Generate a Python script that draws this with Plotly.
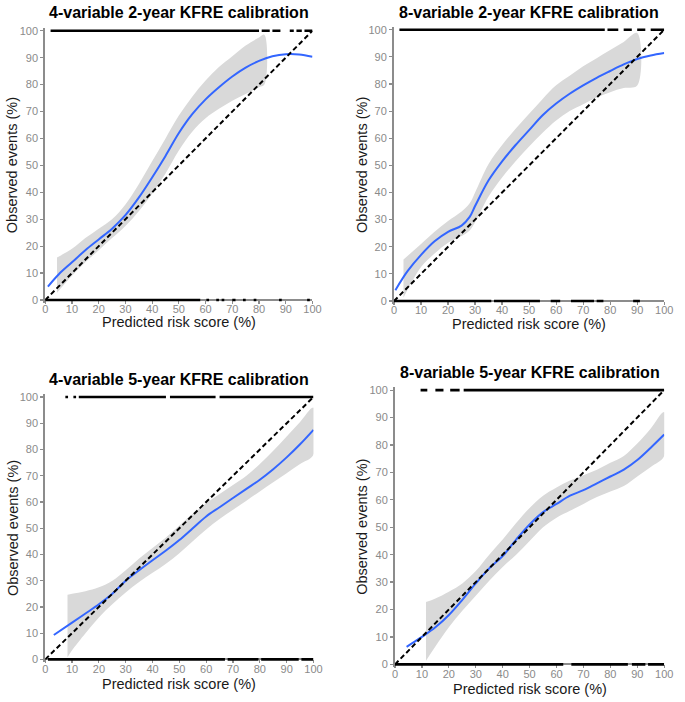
import plotly.graph_objects as go

W, H = 685, 702

TITLES = ["4-variable 2-year KFRE calibration", "8-variable 2-year KFRE calibration",
          "4-variable 5-year KFRE calibration", "8-variable 5-year KFRE calibration"]
X_LABEL = "Predicted risk score (%)"
Y_LABEL = "Observed events (%)"
TICKS = [0, 10, 20, 30, 40, 50, 60, 70, 80, 90, 100]

# ---- Panel 1: 4-variable 2-year ----
p1_curve_x = [1, 5, 10, 15, 20, 25, 30, 35, 40, 45, 50, 55, 60, 65, 70, 75, 80, 85, 90, 95, 100]
p1_curve_y = [5, 9.5, 14, 18.5, 22.5, 26.5, 31.5, 38, 45.5, 53.5, 62, 69, 74.5, 79, 83, 86.3, 88.8, 90.5, 91.3, 91.2, 90.3]
p1_band_x = [4.4, 10, 15, 20, 25, 30, 35, 40, 45, 50, 55, 60, 65, 70, 75, 80, 82]
p1_band_lo = [2.7, 9, 14, 18.5, 23, 27.5, 33, 39.5, 47, 55.5, 62.5, 67.5, 71, 74, 76.5, 79, 80]
p1_band_hi = [15.8, 19, 23, 26.5, 30, 35.5, 43, 51.5, 60, 68.5, 75.5, 81.5, 86.5, 90.5, 94.5, 97.5, 98.5]
p1_rug_top = [[2, 80], [81, 84], [85, 88], [91.5, 93], [94, 96], [97, 100]]
p1_rug_bottom = [[0, 58], [60.3, 61.3], [64, 65], [66, 67], [70, 71.2], [74, 75], [78, 79], [87.5, 88.5], [98, 99]]

# ---- Panel 2: 8-variable 2-year ----
p2_curve_x = [0.5, 5, 10, 15, 20, 25, 28, 30, 35, 40, 45, 50, 55, 60, 65, 70, 75, 80, 85, 90, 95, 100]
p2_curve_y = [4, 11, 17, 22, 25.5, 27.8, 31, 35, 44.5, 51.5, 57.5, 63, 68.5, 72.8, 76.4, 79.5, 82.3, 84.8, 87.2, 89.2, 90.5, 91.4]
p2_band_x = [3.5, 10, 15, 20, 25, 28, 30, 35, 40, 45, 50, 55, 60, 65, 70, 75, 80, 85, 90]
p2_band_lo = [1.2, 12.5, 17.5, 21.5, 24, 26, 29, 38.5, 45.5, 51.5, 57, 62, 66.5, 70, 72.5, 75, 77, 78.5, 79.4]
p2_band_hi = [15.3, 21, 25.5, 29.5, 33, 36, 40, 50.5, 57.5, 63.5, 69, 74.5, 79.5, 83, 86.5, 89.5, 92.5, 95.5, 98.8]
p2_rug_top = [[2, 78], [79, 83], [85, 88], [90, 93], [95, 100]]
p2_rug_bottom = [[0, 36], [37, 54], [58, 61.5], [65.5, 74], [75, 77.5], [88.5, 91]]

# ---- Panel 3: 4-variable 5-year ----
p3_curve_x = [3.2, 10, 15, 20, 25, 30, 35, 40, 45, 50, 55, 60, 65, 70, 75, 80, 85, 90, 95, 100]
p3_curve_y = [9.3, 14, 17.5, 21, 25, 30, 34, 37.8, 41.5, 45.5, 50, 54.5, 58, 61.5, 65, 68.5, 72.5, 77, 82, 87.5]
p3_band_x = [8.3, 10, 15, 20, 25, 30, 35, 40, 45, 50, 55, 60, 65, 70, 75, 80, 85, 90, 95, 100]
p3_band_lo = [0.8, 3.5, 10, 16, 21, 25.5, 29.5, 33, 36.5, 40.5, 45, 49.5, 53.5, 57, 60.5, 64, 67.5, 71, 74.5, 78]
p3_band_hi = [24.6, 25, 26, 27.5, 30, 34, 38.5, 42.5, 46.5, 51, 55.5, 59.5, 63, 66.5, 70, 74.5, 79.5, 85, 90.5, 96]
p3_rug_top = [[7.5, 8.5], [10.5, 11.5], [12.5, 45], [46.5, 63.5], [65, 100]]
p3_rug_bottom = [[1, 67], [68, 79.5], [80.5, 94.5], [95.5, 100]]

# ---- Panel 4: 8-variable 5-year ----
p4_curve_x = [4.3, 10, 15, 20, 25, 30, 35, 40, 45, 50, 55, 60, 65, 70, 75, 80, 85, 90, 95, 100]
p4_curve_y = [6.4, 10, 13.5, 18, 23.5, 29.5, 35, 39.5, 45.5, 51, 55.5, 58.5, 61.5, 63.5, 66, 68.5, 71, 74.5, 79, 83.8]
p4_band_x = [11.5, 15, 20, 25, 30, 35, 40, 45, 50, 55, 60, 65, 70, 75, 80, 85, 90, 95, 100]
p4_band_lo = [1.3, 6.5, 13.5, 19.5, 25, 30.5, 35.5, 40, 45, 50, 53.5, 56, 58.5, 61, 63, 65, 68.5, 72, 76]
p4_band_hi = [22.7, 24, 26.5, 29.5, 34, 40, 45.5, 51.5, 57, 61.5, 64.5, 67, 69, 71, 73.5, 76, 80.5, 86, 92]
p4_rug_top = [[9.5, 12], [15, 18], [20.5, 24], [25.5, 100]]
p4_rug_bottom = [[0, 62.5], [65.5, 86.5], [88, 93], [94, 100]]

ref_x = [0, 100]
ref_y = [0, 100]

panels = [
    dict(curve=(p1_curve_x, p1_curve_y), band=(p1_band_x, p1_band_lo, p1_band_hi),
         rt=p1_rug_top, rb=p1_rug_bottom, box=(43, 315, 27, 299), ttl_y=9, xt_y=321, yt_x=10),
    dict(curve=(p2_curve_x, p2_curve_y), band=(p2_band_x, p2_band_lo, p2_band_hi),
         rt=p2_rug_top, rb=p2_rug_bottom, box=(398, 673, 26, 300), ttl_y=9, xt_y=323, yt_x=366),
    dict(curve=(p3_curve_x, p3_curve_y), band=(p3_band_x, p3_band_lo, p3_band_hi),
         rt=p3_rug_top, rb=p3_rug_bottom, box=(43, 316, 397, 662), ttl_y=379, xt_y=687, yt_x=10),
    dict(curve=(p4_curve_x, p4_curve_y), band=(p4_band_x, p4_band_lo, p4_band_hi),
         rt=p4_rug_top, rb=p4_rug_bottom, box=(399, 673, 390, 667), ttl_y=372, xt_y=692, yt_x=366),
]

FONT = "Liberation Sans, Arial, sans-serif"
GRAY = "#8a8a8a"
LINEGRAY = "#8c8c8c"

fig = go.Figure()
annotations = []
layout_axes = {}


def segs_to_xy(segs, yval):
    xs, ys = [], []
    for a, b in segs:
        xs += [a, b, None]
        ys += [yval, yval, None]
    return xs, ys


for i, p in enumerate(panels):
    n = i + 1
    xa = "x" if n == 1 else f"x{n}"
    ya = "y" if n == 1 else f"y{n}"
    x0, x1, top, bot = p["box"]
    unit = (bot - top) / 100.0
    pad = unit * 1.0
    xdom = [x0 / W, x1 / W]
    ydom = [1 - (bot + pad) / H, 1 - (top - pad) / H]

    bx, blo, bhi = p["band"]
    fig.add_trace(go.Scatter(x=list(bx) + list(bx)[::-1], y=list(bhi) + list(blo)[::-1],
                             fill="toself", fillcolor="#d9d9d9", line=dict(width=0, shape="spline"),
                             mode="lines", hoverinfo="skip", showlegend=False, xaxis=xa, yaxis=ya))
    cx, cy = p["curve"]
    fig.add_trace(go.Scatter(x=cx, y=cy, mode="lines", line=dict(color="#3366FF", width=2, shape="spline"),
                             showlegend=False, xaxis=xa, yaxis=ya))
    fig.add_trace(go.Scatter(x=ref_x, y=ref_y, mode="lines", line=dict(color="black", width=2, dash="5px,3px"),
                             showlegend=False, xaxis=xa, yaxis=ya))
    tx, ty = segs_to_xy(p["rt"], 100)
    fig.add_trace(go.Scatter(x=tx, y=ty, mode="lines", line=dict(color="black", width=2.6),
                             showlegend=False, xaxis=xa, yaxis=ya))
    bxs, bys = segs_to_xy(p["rb"], 0)
    fig.add_trace(go.Scatter(x=bxs, y=bys, mode="lines", line=dict(color="black", width=2.6),
                             showlegend=False, xaxis=xa, yaxis=ya))

    xkey = "xaxis" if n == 1 else f"xaxis{n}"
    ykey = "yaxis" if n == 1 else f"yaxis{n}"
    layout_axes[xkey] = dict(domain=xdom, range=[0, 100], anchor="free", position=1 - bot / H,
                             tickvals=TICKS, ticks="outside", ticklen=3, tickwidth=1.2, tickcolor=LINEGRAY,
                             showline=True, linecolor=LINEGRAY, linewidth=2, showgrid=False, zeroline=False,
                             layer="below traces", ticklabelstandoff=-4,
                             tickfont=dict(family=FONT, size=11, color=GRAY))
    layout_axes[ykey] = dict(domain=ydom, range=[-1, 101], anchor=xa,
                             tickvals=TICKS, ticks="outside", ticklen=3, tickwidth=1.2, tickcolor=LINEGRAY,
                             showline=True, linecolor=LINEGRAY, linewidth=2, showgrid=False, zeroline=False,
                             layer="below traces",
                             tickfont=dict(family=FONT, size=11, color=GRAY))

    cxp = (x0 + x1) / 2
    annotations.append(dict(text=f"<b>{TITLES[i]}</b>", x=cxp / W, y=1 - p["ttl_y"] / H, xref="paper", yref="paper",
                            xanchor="center", yanchor="middle", showarrow=False,
                            font=dict(family=FONT, size=16, color="black")))
    annotations.append(dict(text=X_LABEL, x=cxp / W, y=1 - p["xt_y"] / H, xref="paper", yref="paper",
                            xanchor="center", yanchor="middle", showarrow=False,
                            font=dict(family=FONT, size=14.5, color="#1a1a1a")))
    annotations.append(dict(text=Y_LABEL, x=p["yt_x"] / W, y=1 - ((top + bot) / 2) / H, xref="paper", yref="paper",
                            xanchor="center", yanchor="middle", showarrow=False, textangle=-90,
                            font=dict(family=FONT, size=14.5, color="#1a1a1a")))

fig.update_layout(width=W, height=H, margin=dict(l=0, r=0, t=0, b=0),
                  paper_bgcolor="white", plot_bgcolor="white", showlegend=False,
                  annotations=annotations, **layout_axes)

fig.write_html(
    "out.html",
    config={"displayModeBar": False, "staticPlot": True},
    post_script=(
        "var h=document.documentElement.style;h.margin='0';h.padding='0';h.overflow='hidden';"
        "var b=document.body.style;b.margin='0';b.padding='0';b.overflow='hidden';"
    ),
)
